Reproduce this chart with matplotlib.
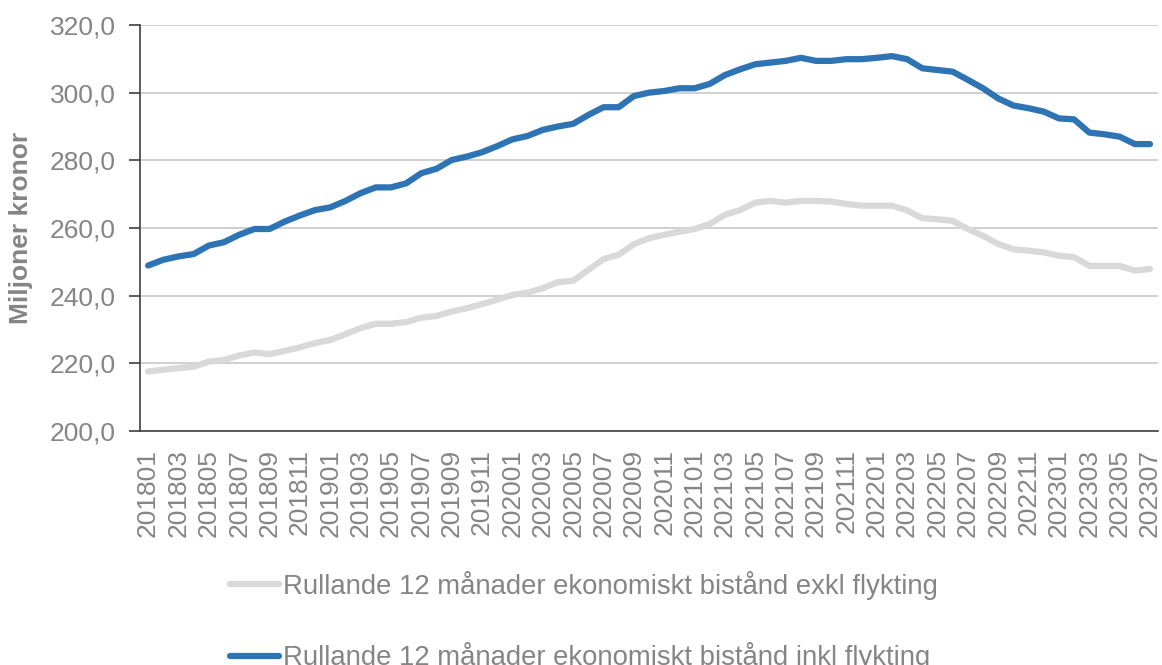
import matplotlib
matplotlib.use("Agg")
import matplotlib.pyplot as plt
from matplotlib.ticker import FuncFormatter, MultipleLocator

plt.rcParams['font.family'] = ['Liberation Sans', 'DejaVu Sans']

months = []
for y in range(2018, 2024):
    for m in range(1, 13):
        if y == 2023 and m > 7:
            break
        months.append(f"{y}{m:02d}")

inkl = [248.9, 250.6, 251.6, 252.3, 254.8, 255.8, 258.0, 259.7, 259.7, 261.9,
        263.7, 265.3, 266.1, 268.0, 270.3, 272.0, 272.0, 273.2, 276.2, 277.5,
        280.1, 281.1, 282.4, 284.2, 286.2, 287.2, 289.0, 290.0, 290.8, 293.4,
        295.7, 295.7, 299.0, 300.0, 300.5, 301.3, 301.3, 302.6, 305.2, 306.9,
        308.4, 308.9, 309.4, 310.3, 309.4, 309.4, 309.9, 309.9, 310.3, 310.8,
        309.9, 307.2, 306.7, 306.2, 303.8, 301.3, 298.3, 296.2, 295.4, 294.4,
        292.4, 292.1, 288.2, 287.7, 287.0, 284.8, 284.8]

exkl = [217.6, 218.1, 218.6, 219.0, 220.5, 221.0, 222.3, 223.2, 222.7, 223.7,
        224.7, 226.0, 226.9, 228.6, 230.4, 231.7, 231.7, 232.2, 233.5, 234.0,
        235.3, 236.3, 237.5, 238.8, 240.2, 240.9, 242.2, 244.0, 244.4, 247.6,
        250.8, 252.1, 255.2, 257.0, 258.0, 258.9, 259.7, 261.2, 263.9, 265.3,
        267.5, 268.0, 267.5, 268.0, 268.0, 267.8, 267.1, 266.6, 266.6, 266.6,
        265.2, 262.9, 262.6, 262.1, 259.7, 257.7, 255.3, 253.7, 253.3, 252.8,
        251.8, 251.4, 248.8, 248.8, 248.8, 247.4, 247.9]

label_exkl = "Rullande 12 månader ekonomiskt bistånd exkl flykting"
label_inkl = "Rullande 12 månader ekonomiskt bistånd inkl flykting"

text_gray = "#858585"
blue = "#2E74B5"
light = "#D9D9D9"

fig = plt.figure(figsize=(11.62, 6.65), dpi=100)
ax = fig.add_axes([0.1209, 0.3519, 0.8753, 0.6105])

x = list(range(len(months)))
ax.plot(x, exkl, color=light, lw=4.5, solid_capstyle='round', label=label_exkl, zorder=3)
ax.plot(x, inkl, color=blue, lw=4.5, solid_capstyle='round', label=label_inkl, zorder=4)

ax.set_xlim(-0.5, len(months) - 0.5)
ax.set_ylim(200, 320)
ax.yaxis.set_major_locator(MultipleLocator(20))
ax.yaxis.set_major_formatter(FuncFormatter(lambda v, p: f"{v:.1f}".replace('.', ',')))
ax.grid(axis='y', color='#C8C8C8', lw=1.2, zorder=0)
ax.set_axisbelow(True)

ax.set_xticks(x[::2])
ax.set_xticklabels(months[::2], rotation=90, fontsize=19, color=text_gray)
ax.tick_params(axis='x', length=0, pad=13)
ax.tick_params(axis='y', length=8, width=1.2, color='#404040', labelsize=19,
               labelcolor=text_gray, pad=10)

for s in ['top', 'right']:
    ax.spines[s].set_visible(False)
for s in ['left', 'bottom']:
    ax.spines[s].set_color('#404040')
    ax.spines[s].set_linewidth(1.2)

ax.set_ylabel("Miljoner kronor", fontsize=19, fontweight='bold', color=text_gray, labelpad=12)

h, l = ax.get_legend_handles_labels()
fig.legend(h, l, loc='upper center', bbox_to_anchor=(0.5026, 0.1624), ncol=1,
           frameon=False, fontsize=19.8, labelcolor=text_gray, handlelength=1.75,
           handletextpad=0.15, labelspacing=1.55, borderpad=0)

fig.savefig("out.png", dpi=100)
